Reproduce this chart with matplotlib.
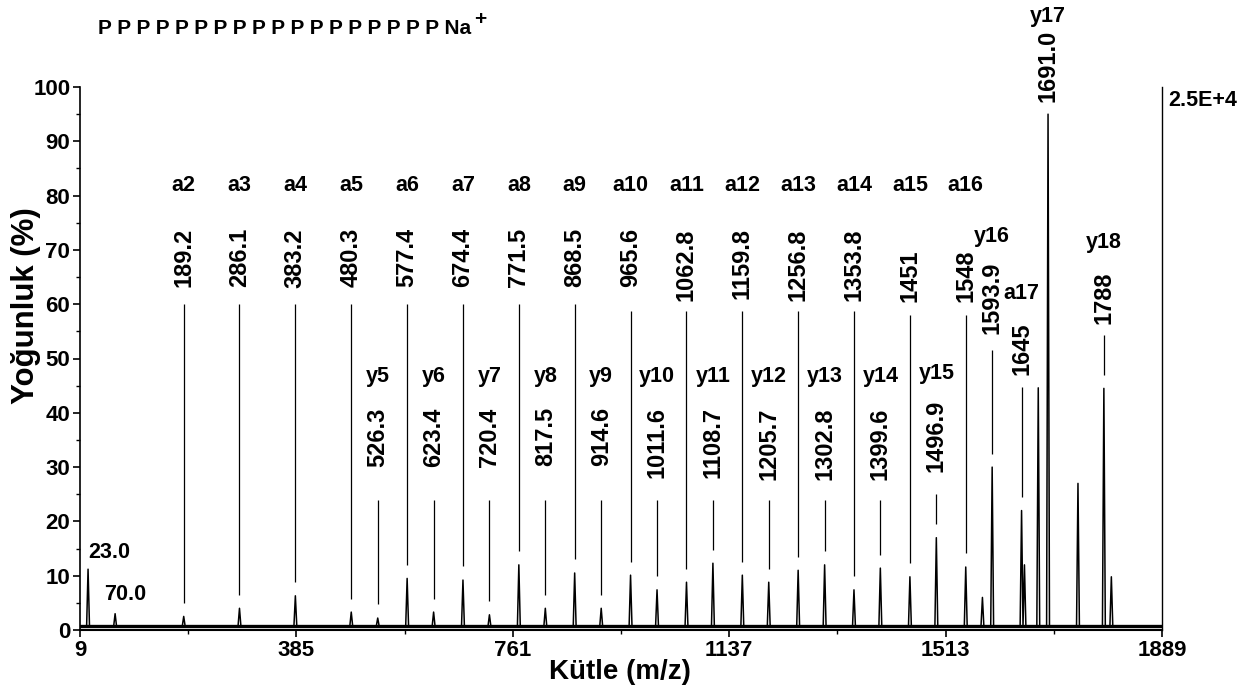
import matplotlib
matplotlib.use("Agg")
import matplotlib.pyplot as plt

font = ['Liberation Sans', 'DejaVu Sans']

# a-ion series (m/z label, peak height in %)
a_names = ['a2', 'a3', 'a4', 'a5', 'a6', 'a7', 'a8', 'a9', 'a10', 'a11', 'a12',
           'a13', 'a14', 'a15', 'a16', 'a17']
a_mz = [189.2, 286.1, 383.2, 480.3, 577.4, 674.4, 771.5, 868.5, 965.6, 1062.8,
        1159.8, 1256.8, 1353.8, 1451, 1548, 1645]
a_labels = ['189.2', '286.1', '383.2', '480.3', '577.4', '674.4', '771.5', '868.5',
            '965.6', '1062.8', '1159.8', '1256.8', '1353.8', '1451', '1548', '1645']
a_int = [2.5, 4.0, 6.3, 3.3, 9.5, 9.2, 12.0, 10.5, 10.1, 8.8, 10.1, 11.0, 7.4,
         9.8, 11.6, 22.0]

# y-ion series
y_names = ['y5', 'y6', 'y7', 'y8', 'y9', 'y10', 'y11', 'y12', 'y13', 'y14',
           'y15', 'y16', 'y17', 'y18']
y_mz = [526.3, 623.4, 720.4, 817.5, 914.6, 1011.6, 1108.7, 1205.7, 1302.8,
        1399.6, 1496.9, 1593.9, 1691.0, 1788]
y_labels = ['526.3', '623.4', '720.4', '817.5', '914.6', '1011.6', '1108.7',
            '1205.7', '1302.8', '1399.6', '1496.9', '1593.9', '1691.0', '1788']
y_int = [2.2, 3.3, 2.8, 4.0, 4.0, 7.4, 12.3, 8.8, 12.0, 11.4, 17.0, 30.0, 95.0, 44.5]

# unassigned peaks
other_mz = [23.0, 70.0, 1577, 1650, 1674, 1743, 1801]
other_int = [11.2, 3.0, 6.0, 12.0, 44.6, 27.0, 9.8]

baseline = 0.7
xticks = [9, 385, 761, 1137, 1513, 1889]

# label placement (name y, number top, leader top) in % units
a_layout = [(81.8, 74, 60)] * 8 + [(81.8, 74, 58.8)] * 5 + [(81.8, 70, 58)] * 2 + [(62, 56.7, 44.8)]
y_layout = [(46.6, 41, 24)] * 10 + [(47.3, 42.4, 25), (72.5, 67.8, 51.6),
                                   (113, 110.5, 95.4), (71.3, 66, 54.3)]

fig = plt.figure(figsize=(12.54, 6.95), dpi=100)
ax = fig.add_axes([80 / 1254, 65 / 695, 1082 / 1254, 543 / 695])

# spectrum trace
peaks = sorted(zip(a_mz + y_mz + other_mz, a_int + y_int + other_int))
xs, ys = [xticks[0]], [baseline]
for mz, h in peaks:
    xs += [mz - 2.5, mz, mz + 2.5]
    ys += [baseline, h, baseline]
xs.append(xticks[-1])
ys.append(baseline)
ax.plot([xticks[0], xticks[-1]], [baseline, baseline], color='black', lw=2.4)
ax.plot(xs, ys, color='black', lw=1.1)

gap = 2.5
for names, mzs, labs, ints, lay in [(a_names, a_mz, a_labels, a_int, a_layout),
                                     (y_names, y_mz, y_labels, y_int, y_layout)]:
    for name, mz, lab, h, (ny, nt, lt) in zip(names, mzs, labs, ints, lay):
        ax.text(mz, ny, name, ha='center', va='center', fontsize=15.5,
                fontweight='bold', family=font, clip_on=False)
        ax.text(mz, nt, lab, ha='center', va='top', rotation=90, fontsize=17,
                fontweight='bold', family=font, clip_on=False)
        if lt > h + gap:
            ax.vlines(mz, h + gap, lt, color='black', lw=0.9)

ax.text(other_mz[0], 14.2, '23.0', ha='left', va='center', fontsize=15.5,
        fontweight='bold', family=font)
ax.text(other_mz[1] + 17, 6.6, '70.0', ha='center', va='center', fontsize=15.5,
        fontweight='bold', family=font)

ax.set_xlim(xticks[0], xticks[-1])
ax.set_ylim(0, 100)
ax.set_xticks(xticks)
ax.set_xticks([(a + b) / 2 for a, b in zip(xticks[:-1], xticks[1:])], minor=True)
ax.set_yticks(range(0, 101, 10))
ax.set_yticks(range(5, 100, 10), minor=True)
ax.tick_params(which='major', length=5, width=1.2, pad=2, labelsize=16)
ax.tick_params(which='minor', length=3, width=1)
for lbl in ax.get_xticklabels() + ax.get_yticklabels():
    lbl.set_family(font)
    lbl.set_fontweight('bold')

ax.spines['top'].set_visible(False)
ax.spines['left'].set_linewidth(1.2)
ax.spines['bottom'].set_linewidth(1.5)
ax.spines['right'].set_linewidth(1.0)

ax.text(1.006, 97.6, '2.5E+4', transform=ax.get_yaxis_transform(), ha='left',
        va='center', fontsize=15.5, fontweight='bold', family=font, clip_on=False)

fig.text(26 / 1254, 1 - 306 / 695, 'Yoğunluk (%)', rotation=90, ha='center',
         va='center', fontsize=22.5, fontweight='bold', family=font)
fig.text(620 / 1254, 1 - 672 / 695, 'Kütle (m/z)', ha='center', va='center',
         fontsize=20, fontweight='bold', family=font)

title = fig.text(98 / 1254, 1 - 29 / 695, ' '.join(['P'] * 18) + ' Na', ha='left',
                 va='center', fontsize=15, fontweight='bold', family=font)
ax.annotate('+', xy=(1.0, 1.0), xycoords=title, xytext=(2, 0),
            textcoords='offset points', ha='left', va='center', fontsize=15,
            fontweight='bold', family=font, annotation_clip=False)

fig.savefig('out.png', dpi=100)
